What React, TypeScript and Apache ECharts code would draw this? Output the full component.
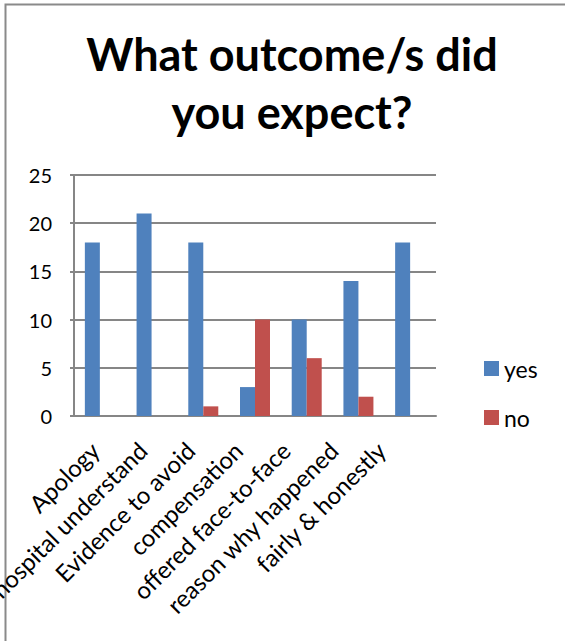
import React, { useEffect, useRef } from "react";
import * as echarts from "echarts";

const categories = [
  "Apology",
  "hospital understand",
  "Evidence to avoid",
  "compensation",
  "offered face-to-face",
  "reason why happened",
  "fairly & honestly",
];
const yesValues = [18, 21, 18, 3, 10, 14, 18];
const noValues = [0, 0, 1, 10, 6, 2, 0];
const titleText = "What outcome/s did\nyou expect?";

const FONT = "Lato, 'Open Sans', sans-serif";

export default function App() {
  const ref = useRef<HTMLDivElement>(null);
  useEffect(() => {
    if (!ref.current) return;
    const chart = echarts.init(ref.current, null, { renderer: "svg" });
    chart.setOption({
      animation: false,
      backgroundColor: "#ffffff",
      title: {
        text: titleText,
        left: 287,
        textAlign: "center",
        top: 20,
        textStyle: {
          fontFamily: FONT,
          fontSize: 45,
          fontWeight: "bold",
          color: "#000",
          lineHeight: 58,
        },
      },
      graphic: [
        {
          type: "polyline",
          shape: { points: [[5.5, 641], [5.5, 4.5], [565, 4.5]] },
          style: { stroke: "#8a8a8a", lineWidth: 2, fill: null },
        },
      ],
      legend: {
        orient: "vertical",
        left: 479,
        top: 352,
        itemWidth: 15,
        itemHeight: 15,
        itemGap: 26,
        icon: "rect",
        textStyle: { fontFamily: FONT, fontSize: 23, color: "#000" },
        data: ["yes", "no"],
      },
      grid: [
        { left: 74, right: 129, top: 175, bottom: 225, outerBoundsMode: "none", containLabel: false },
        // label band: Excel places the slanted labels on a slightly tighter pitch
        { left: 71, right: 160, top: 175, bottom: 225, outerBoundsMode: "none", containLabel: false },
      ],
      xAxis: [
        {
          type: "category",
          gridIndex: 0,
          data: categories,
          axisLine: { lineStyle: { color: "#868686", width: 2 } },
          axisTick: { show: false },
          axisLabel: { show: false },
        },
        {
          type: "category",
          gridIndex: 1,
          data: categories,
          axisLine: { show: false },
          axisTick: { show: false },
          splitLine: { show: false },
          axisLabel: {
            rotate: 45,
            interval: 0,
            margin: 30,
            fontFamily: FONT,
            fontSize: 24,
            color: "#000",
          },
        },
      ],
      yAxis: [
        {
          type: "value",
          gridIndex: 0,
          min: 0,
          max: 25,
          interval: 5,
          axisLine: { show: true, lineStyle: { color: "#868686", width: 2 } },
          axisTick: { show: true, length: 4, lineStyle: { color: "#868686", width: 2 } },
          splitLine: { lineStyle: { color: "#868686", width: 2 } },
          axisLabel: {
            fontFamily: FONT,
            fontSize: 20,
            color: "#000",
            margin: 22,
          },
        },
        {
          type: "value",
          gridIndex: 1,
          min: 0,
          max: 25,
          show: false,
          splitLine: { show: false },
        },
      ],
      series: [
        {
          name: "yes",
          type: "bar",
          data: yesValues,
          barWidth: 15,
          barGap: "0%",
          itemStyle: { color: "#4f81bd" },
        },
        {
          name: "no",
          type: "bar",
          data: noValues,
          barWidth: 15,
          barGap: "0%",
          itemStyle: { color: "#c0504d" },
        },
      ],
    });
    return () => chart.dispose();
  }, []);
  return (
    <div
      ref={ref}
      style={{ position: "fixed", left: 0, top: 0, width: 565, height: 641 }}
    />
  );
}
